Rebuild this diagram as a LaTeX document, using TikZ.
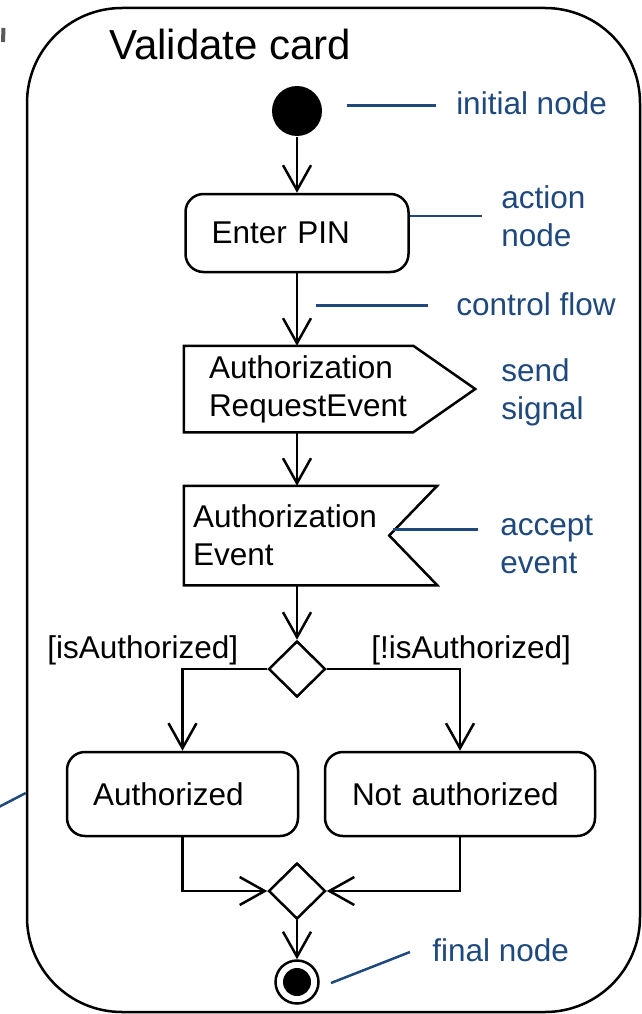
\documentclass[tikz,border=0pt]{standalone}
\usepackage{fontspec}
\setmainfont{Liberation Sans}
\usetikzlibrary{arrows.meta,shapes.geometric,calc}
\definecolor{notecol}{RGB}{31,73,125}
\hyphenpenalty=10000
\begin{document}
\begin{tikzpicture}[x=1pt,y=-1pt,line width=2.5pt]
\tikzstyle{txt}=[font=\fontsize{31.5}{38}\selectfont]
\tikzstyle{action}=[txt, draw, rounded corners=18pt, inner xsep=26pt, inner ysep=0, minimum height=84pt, align=left]
\tikzstyle{flow}=[-{Straight Barb[length=25pt,width=28pt]}]
\tikzstyle{note}=[draw=notecol, line width=2.5pt]
\tikzstyle{notetxt}=[txt, text=notecol, align=left, inner sep=0]
\tikzstyle{choice}=[diamond, draw, minimum width=57pt, minimum height=56pt, inner sep=0]
\useasboundingbox (0,0) rectangle (642,1014);
\draw[gray!70!black, line width=4pt] (3.5,28) -- (3,42);
\node[draw, rounded corners=95pt, minimum width=613pt, minimum height=1004pt, inner sep=0] (card) at (333.5,510) {};
\node[txt, anchor=base west, inner sep=0] (title) at (108,60) {\fontsize{42}{50}\selectfont Validate card};
\node[circle, fill, minimum size=50pt, inner sep=0] (start) at (297,111) {};
\node[action, text width=171pt, minimum height=78pt] (pin) at (297,233) {Enter PIN};
\node[txt, align=left, text width=179pt, inner xsep=24pt, inner ysep=0, minimum height=84pt] (send) at (298.5,389) {Authorization\\RequestEvent};
\draw (send.north west) -- (send.north east) -- ($(send.east)+(62,0)$) -- (send.south east) -- (send.south west) -- cycle;
\node[txt, align=left, text width=235pt, inner xsep=8pt, inner ysep=0, minimum height=97pt] (acc) at (310.5,535.5) {Authorization\\Event};
\draw (acc.north west) -- (acc.north east) -- ($(acc.east)+(-48,0)$) -- (acc.south east) -- (acc.south west) -- cycle;
\node[choice] (dec) at (297,669) {};
\node[action, text width=179pt] (auth) at (182.5,794) {Authorized};
\node[action, text width=216pt, inner xsep=27pt] (nauth) at (460,794) {Not authorized};
\node[choice] (merge) at (297,891) {};
\node[circle, draw, minimum size=43pt, inner sep=0, path picture={\fill (path picture bounding box.center) circle (14pt);}] (end) at (297,982) {};
\draw[flow] (start) -- (pin);
\draw[flow] (pin) -- (pin |- send.north);
\draw[flow] (send.south -| pin) -- (acc.north -| pin);
\draw[flow] (acc.south -| pin) -- (dec);
\draw[flow] (dec.west) -| (auth.north);
\draw[flow] (dec.east) -| (nauth.north);
\draw[flow] (auth.south) |- (merge.west);
\draw[flow] (nauth.south) |- (merge.east);
\draw[flow] (merge) -- (end);
\node[txt, anchor=base west, inner sep=0] (yes) at (46,658) {[isAuthorized]};
\node[txt, anchor=base west, inner sep=0] (no) at (370,658) {[!isAuthorized]};
\node[notetxt, anchor=base west] (initlbl) at (455,115) {initial node};
\draw[note] (initlbl.west) ++(-19,2) -- ++(-89,0);
\node[notetxt, anchor=west] (actlbl) at (500,216) {action\\node};
\draw[note] (pin.east |- actlbl) -- ++(72,0);
\node[notetxt, anchor=base west] (flowlbl) at (455,315) {control flow};
\draw[note] (flowlbl.west) ++(-27,2) -- ++(-112,0);
\node[notetxt, anchor=west] (sendlbl) at (500,392) {send\\signal};
\node[notetxt, anchor=west] (acclbl) at (499,544) {accept\\event};
\draw[note] (acc.east) ++(-44,-6) -- ++(85,0);
\node[notetxt, anchor=base west] (endlbl) at (431,961) {final node};
\draw[note] (end) ++(34,1) -- ++(79,-31);
\draw[note] (card.west |- 0,793) -- ++(-27,14);
\end{tikzpicture}
\end{document}
